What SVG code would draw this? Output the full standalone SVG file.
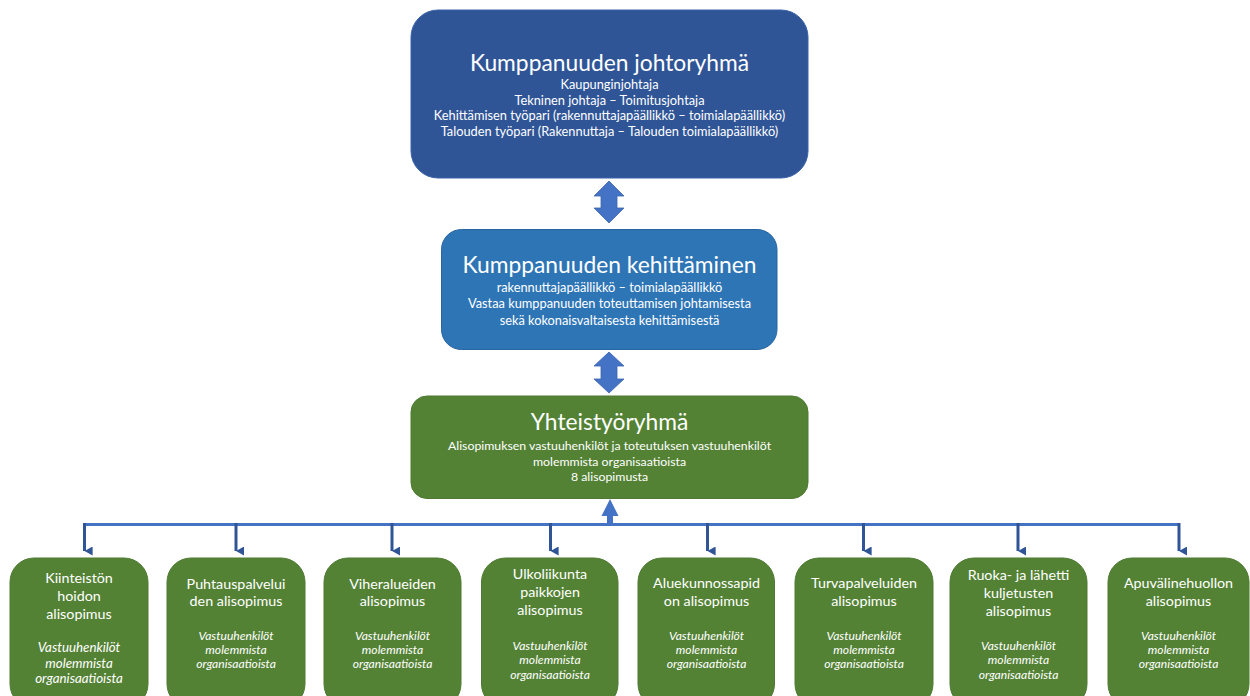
<svg xmlns="http://www.w3.org/2000/svg" width="1250" height="696" viewBox="0 0 1250 696">
  <style>
    text { font-family: Lato, "Open Sans", "Liberation Sans", sans-serif; fill: #ffffff; text-anchor: middle; }
    .big { font-size: 22.8px; }
    .sub { font-size: 12.8px; }
    .sub2 { font-size: 12.8px; }
    .sub3 { font-size: 12.3px; }
    .lbl { font-size: 14.3px; }
    .it { font-size: 12.1px; font-style: italic; }
    .it1 { font-size: 13.3px; font-style: italic; }
    .navy { fill: #2F5597; stroke: #3A62A8; stroke-width: 1; }
    .blue { fill: #2E75B6; stroke: #2A64A0; stroke-width: 1; }
    .green { fill: #548235; stroke: #4E7A31; stroke-width: 1; }
    .bus { stroke: #4472C4; stroke-width: 3; fill: none; }
    .drop { stroke: #2F5597; stroke-width: 3; fill: none; }
    .blk { fill: #4472C4; stroke: #3B65B0; stroke-width: 0.8; }
  </style>
  <defs>
    <marker id="tip" viewBox="0 0 10 10" refX="5" refY="9" markerWidth="3" markerHeight="3" orient="auto-start-reverse" markerUnits="strokeWidth">
      <path d="M0,0 L10,0 L5,9 Z" fill="#2F5597"/>
    </marker>
  </defs>

  <!-- connectors -->
  <g id="connectors">
    <!-- block double arrows between the upper levels -->
    <path class="blk" d="M609,181 L624,196 L617,196 L617,208 L624,208 L609,223 L594,208 L601,208 L601,196 L594,196 Z"/>
    <path class="blk" d="M609,352 L624,366 L617,366 L617,379 L624,379 L609,393 L594,379 L601,379 L601,366 L594,366 Z"/>
    <!-- distribution bus to the sub-agreements -->
    <path class="bus" d="M84.5,524.5 L1179,524.5"/>
    <path fill="#4472C4" d="M607,526 L607,516 L601.5,516 L610,499 L618.5,516 L613,516 L613,526 Z"/>
    <g class="drop">
      <line x1="84.5" y1="523" x2="84.5" y2="551" marker-end="url(#tip)"/>
      <line x1="236" y1="523" x2="236" y2="551" marker-end="url(#tip)"/>
      <line x1="392" y1="523" x2="392" y2="551" marker-end="url(#tip)"/>
      <line x1="550.5" y1="523" x2="550.5" y2="551" marker-end="url(#tip)"/>
      <line x1="707.5" y1="523" x2="707.5" y2="551" marker-end="url(#tip)"/>
      <line x1="863.5" y1="523" x2="863.5" y2="551" marker-end="url(#tip)"/>
      <line x1="1018" y1="523" x2="1018" y2="551" marker-end="url(#tip)"/>
      <line x1="1179" y1="523" x2="1179" y2="551" marker-end="url(#tip)"/>
    </g>
  </g>

  <!-- steering group -->
  <g id="johtoryhma">
    <rect class="navy" x="411" y="10" width="397" height="168" rx="27"/>
    <text class="big" x="609.5" y="71">Kumppanuuden johtoryhmä</text>
    <text class="sub" x="609.5" y="89">Kaupunginjohtaja</text>
    <text class="sub" x="609.5" y="104.5">Tekninen johtaja – Toimitusjohtaja</text>
    <text class="sub" x="609.5" y="120">Kehittämisen työpari (rakennuttajapäällikkö – toimialapäällikkö)</text>
    <text class="sub" x="609.5" y="136">Talouden työpari (Rakennuttaja – Talouden toimialapäällikkö)</text>
  </g>

  <!-- development -->
  <g id="kehittaminen">
    <rect class="blue" x="441.5" y="229.5" width="335.5" height="120" rx="20"/>
    <text class="big" x="609.5" y="272.5">Kumppanuuden kehittäminen</text>
    <text class="sub2" x="609.5" y="291.5">rakennuttajapäällikkö – toimialapäällikkö</text>
    <text class="sub2" x="609.5" y="308">Vastaa kumppanuuden toteuttamisen johtamisesta</text>
    <text class="sub2" x="609.5" y="324.5">sekä kokonaisvaltaisesta kehittämisestä</text>
  </g>

  <!-- cooperation group -->
  <g id="yhteistyoryhma">
    <rect class="green" x="411" y="396" width="397" height="102.5" rx="16"/>
    <text class="big" x="609.5" y="430">Yhteistyöryhmä</text>
    <text class="sub3" x="609.5" y="450">Alisopimuksen vastuuhenkilöt ja toteutuksen vastuuhenkilöt</text>
    <text class="sub3" x="609.5" y="466">molemmista organisaatioista</text>
    <text class="sub3" x="609.5" y="481">8 alisopimusta</text>
  </g>

  <!-- sub-agreements -->
  <g id="alisopimus-1">
    <rect class="green" x="10" y="558" width="138" height="150" rx="24"/>
    <text class="lbl" x="79" y="583">Kiinteistön</text>
    <text class="lbl" x="79" y="601">hoidon</text>
    <text class="lbl" x="79" y="618.5">alisopimus</text>
    <text class="it1" x="79" y="652">Vastuuhenkilöt</text>
    <text class="it1" x="79" y="667.5">molemmista</text>
    <text class="it1" x="79" y="683">organisaatioista</text>
  </g>
  <g id="alisopimus-2">
    <rect class="green" x="167" y="558" width="138" height="150" rx="24"/>
    <text class="lbl" x="236" y="588.5">Puhtauspalvelui</text>
    <text class="lbl" x="236" y="605.5">den alisopimus</text>
    <text class="it" x="236" y="639.5">Vastuuhenkilöt</text>
    <text class="it" x="236" y="653.5">molemmista</text>
    <text class="it" x="236" y="668">organisaatioista</text>
  </g>
  <g id="alisopimus-3">
    <rect class="green" x="324" y="558" width="137" height="150" rx="24"/>
    <text class="lbl" x="392.5" y="588.5">Viheralueiden</text>
    <text class="lbl" x="392.5" y="605.5">alisopimus</text>
    <text class="it" x="392.5" y="639.5">Vastuuhenkilöt</text>
    <text class="it" x="392.5" y="653.5">molemmista</text>
    <text class="it" x="392.5" y="668">organisaatioista</text>
  </g>
  <g id="alisopimus-4">
    <rect class="green" x="481.5" y="558" width="136.5" height="150" rx="24"/>
    <text class="lbl" x="550" y="578.5">Ulkoliikunta</text>
    <text class="lbl" x="550" y="596.5">paikkojen</text>
    <text class="lbl" x="550" y="614.5">alisopimus</text>
    <text class="it" x="550" y="649.5">Vastuuhenkilöt</text>
    <text class="it" x="550" y="664">molemmista</text>
    <text class="it" x="550" y="678.5">organisaatioista</text>
  </g>
  <g id="alisopimus-5">
    <rect class="green" x="638" y="558" width="136.5" height="150" rx="24"/>
    <text class="lbl" x="706.5" y="588">Aluekunnossapid</text>
    <text class="lbl" x="706.5" y="605.5">on alisopimus</text>
    <text class="it" x="706.5" y="639.5">Vastuuhenkilöt</text>
    <text class="it" x="706.5" y="653.5">molemmista</text>
    <text class="it" x="706.5" y="668">organisaatioista</text>
  </g>
  <g id="alisopimus-6">
    <rect class="green" x="795" y="558" width="138" height="150" rx="24"/>
    <text class="lbl" x="864" y="588">Turvapalveluiden</text>
    <text class="lbl" x="864" y="605.5">alisopimus</text>
    <text class="it" x="864" y="639.5">Vastuuhenkilöt</text>
    <text class="it" x="864" y="653.5">molemmista</text>
    <text class="it" x="864" y="668">organisaatioista</text>
  </g>
  <g id="alisopimus-7">
    <rect class="green" x="950" y="558" width="137" height="150" rx="24"/>
    <text class="lbl" x="1018.5" y="580">Ruoka- ja lähetti</text>
    <text class="lbl" x="1018.5" y="598">kuljetusten</text>
    <text class="lbl" x="1018.5" y="616">alisopimus</text>
    <text class="it" x="1018.5" y="649.5">Vastuuhenkilöt</text>
    <text class="it" x="1018.5" y="664">molemmista</text>
    <text class="it" x="1018.5" y="678.5">organisaatioista</text>
  </g>
  <g id="alisopimus-8">
    <rect class="green" x="1108" y="558" width="141" height="150" rx="24"/>
    <text class="lbl" x="1178.5" y="588">Apuvälinehuollon</text>
    <text class="lbl" x="1178.5" y="605.5">alisopimus</text>
    <text class="it" x="1178.5" y="639.5">Vastuuhenkilöt</text>
    <text class="it" x="1178.5" y="653.5">molemmista</text>
    <text class="it" x="1178.5" y="668">organisaatioista</text>
  </g>
</svg>
